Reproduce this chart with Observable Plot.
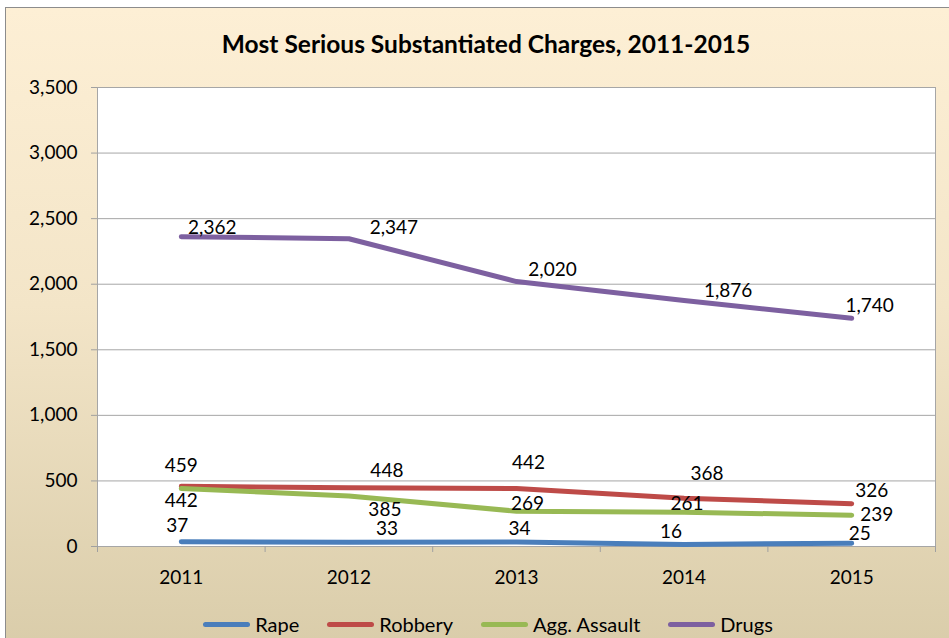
<!DOCTYPE html>
<html>
<head>
<meta charset="utf-8">
<script src="https://cdn.jsdelivr.net/npm/d3@7"></script>
<script src="https://cdn.jsdelivr.net/npm/@observablehq/plot@0.6"></script>
<style>
  body { margin: 0; width: 949px; height: 638px; overflow: hidden; background: #fff; font-family: Lato, "Open Sans", sans-serif; }
  #bg { position: absolute; left: 5px; top: 7px; width: 970px; height: 660px; border: 1px solid #8c8c8c;
        background: linear-gradient(to bottom, #fdefd5 0%, #f3e5c8 45%, #d8cba8 100%); }
  #title { position: absolute; left: 0; top: 29px; width: 972px; text-align: center; font-weight: 700; font-size: 24.5px; color: #000; }
  #plot { position: absolute; left: 0; top: 70px; }
  #legend { position: absolute; left: 0; top: 612px; width: 976px; display: flex; justify-content: center; gap: 28px; font-size: 20px; color: #000; }
  .item { display: flex; align-items: center; gap: 5px; }
  .sw { width: 47px; height: 5px; border-radius: 3px; }
</style>
</head>
<body>
<div id="bg"></div>
<div id="title">Most Serious Substantiated Charges, 2011-2015</div>
<div id="plot"></div>
<div id="legend"></div>
<script>
const years = [2011, 2012, 2013, 2014, 2015];
const seriesNames = ["Rape", "Robbery", "Agg. Assault", "Drugs"];
const seriesColors = ["#4a7ebb", "#be4b48", "#98b954", "#7d60a0"];
const rape = [37, 33, 34, 16, 25];
const robbery = [459, 448, 442, 368, 326];
const aggAssault = [442, 385, 269, 261, 239];
const drugs = [2362, 2347, 2020, 1876, 1740];
const yTicks = [0, 500, 1000, 1500, 2000, 2500, 3000, 3500];
const xBoundaries = [2010.5, 2011.5, 2012.5, 2013.5, 2014.5, 2015.5];
// label offsets (pixels) relative to each point, per series
const labelDx = [[-4, 38, 3, -13, 8], [0, 38, 12, 23, 20], [0, 36, 11, 3, 25], [31, 45, 36, 44, 18]];
const labelDy = [[-16, -13, -13, -12, -9], [-20, -17, -26, -24, -13], [12, 14, -7, -8, 0], [-9, -11, -12, -10, -12]];

const seriesValues = [rape, robbery, aggAssault, drugs];
const data = [];
seriesNames.forEach((s, i) => years.forEach((y, j) => data.push({series: s, year: y, value: seriesValues[i][j], si: i, yi: j})));

const fmt = d3.format(",");
const labelMarks = data.map(d => Plot.text([d], {
  x: "year", y: "value", text: r => fmt(r.value),
  dx: labelDx[d.si][d.yi], dy: labelDy[d.si][d.yi], fill: "#000", fontSize: 19
}));

const chart = Plot.plot({
  width: 949, height: 530,
  marginLeft: 97, marginRight: 14, marginTop: 17, marginBottom: 54,
  style: {fontFamily: "Lato, 'Open Sans', sans-serif", fontSize: "19px", background: "transparent", overflow: "visible"},
  x: {type: "linear", domain: [2010.5, 2015.5], axis: null, label: null},
  y: {domain: [0, 3500], axis: null, label: null},
  color: {domain: seriesNames, range: seriesColors},
  marks: [
    Plot.frame({fill: "white", stroke: null}),
    Plot.gridY(yTicks, {stroke: "#a6a6a6", strokeOpacity: 1, strokeWidth: 1}),
    Plot.frame({stroke: "#a6a6a6", strokeWidth: 1}),
    Plot.axisY({ticks: yTicks, tickSize: 6, tickPadding: 14, tickFormat: fmt, stroke: "#a0a0a0", fill: "#000", fontSize: 19, label: null}),
    Plot.axisX({ticks: xBoundaries, tickSize: 6, tickFormat: () => "", stroke: "#a0a0a0", label: null}),
    Plot.axisX({ticks: years, tickSize: 0, tickPadding: 24, tickFormat: d => String(d), fill: "#000", fontSize: 19, label: null}),
    Plot.line(data, {x: "year", y: "value", z: "series", stroke: "series", strokeWidth: 5, strokeLinecap: "round", strokeLinejoin: "round"}),
    ...labelMarks
  ]
});
document.getElementById("plot").appendChild(chart);

const legend = document.getElementById("legend");
seriesNames.forEach((s, i) => {
  const item = document.createElement("div");
  item.className = "item";
  const sw = document.createElement("div");
  sw.className = "sw";
  sw.style.background = seriesColors[i];
  const t = document.createElement("span");
  t.textContent = s;
  item.appendChild(sw); item.appendChild(t);
  legend.appendChild(item);
});
</script>
</body>
</html>
